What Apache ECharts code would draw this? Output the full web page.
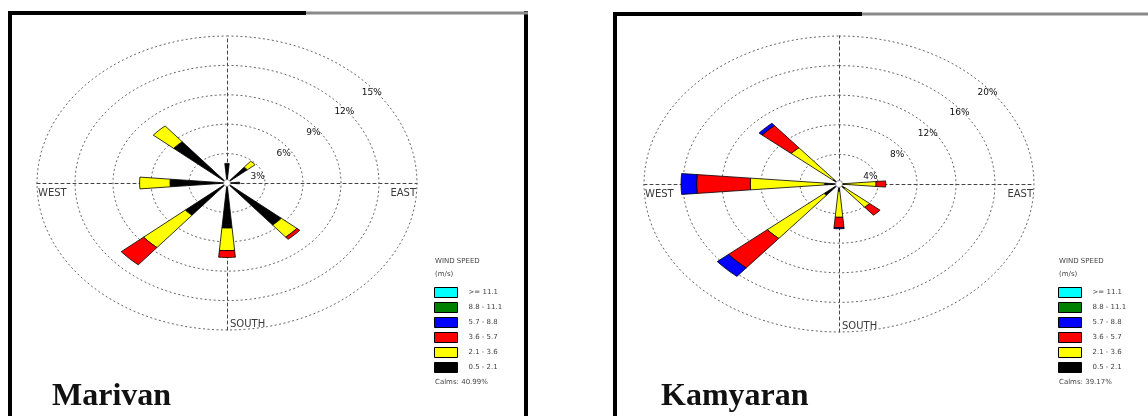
<!DOCTYPE html>
<html>
<head>
<meta charset="utf-8">
<script src="https://cdn.jsdelivr.net/npm/echarts@6/dist/echarts.min.js"></script>
<style>
  html, body { margin: 0; padding: 0; background: #ffffff; }
  #chart { width: 1148px; height: 416px; }
</style>
</head>
<body>
<div id="chart"></div>
<script>
// Wind direction sectors, clockwise from north (degrees)
const directions = ['N', 'NE', 'E', 'SE', 'S', 'SW', 'W', 'NW'];
const directionAngles = [0, 45, 90, 135, 180, 225, 270, 315];

// Wind speed classes (m/s), innermost first
const speedClasses = ['0.5 - 2.1', '2.1 - 3.6', '3.6 - 5.7', '5.7 - 8.8', '8.8 - 11.1', '>= 11.1'];

// Marivan: frequency (%) per direction for each speed class
const marivan_0_5_2_1   = [2.0, 2.1, 1.0, 5.6, 4.6, 4.3, 4.5, 5.5];
const marivan_2_1_3_6   = [0.0, 0.8, 0.0, 1.6, 2.3, 4.3, 2.4, 2.1];
const marivan_3_6_5_7   = [0.0, 0.0, 0.0, 0.3, 0.7, 2.3, 0.0, 0.0];
const marivan_5_7_8_8   = [0.0, 0.0, 0.0, 0.0, 0.0, 0.0, 0.0, 0.0];
const marivan_8_8_11_1  = [0.0, 0.0, 0.0, 0.0, 0.0, 0.0, 0.0, 0.0];
const marivan_11_1_up   = [0.0, 0.0, 0.0, 0.0, 0.0, 0.0, 0.0, 0.0];
const marivanRings = [3, 6, 9, 12, 15];
const marivanCalms = 'Calms: 40.99%';

// Kamyaran: frequency (%) per direction for each speed class
const kamyaran_0_5_2_1  = [0.3, 0.3, 0.6, 0.8, 1.0, 2.0, 1.5, 0.8];
const kamyaran_2_1_3_6  = [0.0, 0.0, 3.2, 3.3, 3.5, 7.6, 7.6, 5.6];
const kamyaran_3_6_5_7  = [0.0, 0.0, 1.0, 1.4, 1.4, 5.2, 5.5, 3.9];
const kamyaran_5_7_8_8  = [0.0, 0.0, 0.0, 0.0, 0.15, 1.5, 1.6, 0.4];
const kamyaran_8_8_11_1 = [0.0, 0.0, 0.0, 0.0, 0.0, 0.0, 0.0, 0.0];
const kamyaran_11_1_up  = [0.0, 0.0, 0.0, 0.0, 0.0, 0.0, 0.0, 0.0];
const kamyaranRings = [4, 8, 12, 16, 20];
const kamyaranCalms = 'Calms: 39.17%';

const compassLabels = ['WEST', 'EAST', 'SOUTH'];

// ---- styling ----
const speedColors = ['#000000', '#ffff00', '#ff0000', '#0000ff', '#008000', '#00ffff'];
const PETAL_HALF_DEG = 5;
// where each ring's % label sits: bearing from north and fraction of the ring radius
const ringLabelBearing = [74, 56, 53, 52, 51];
const ringLabelFrac = [0.84, 0.9, 0.95, 0.98, 0.98];

const stations = [
  {
    name: 'Marivan',
    bins: [marivan_0_5_2_1, marivan_2_1_3_6, marivan_3_6_5_7, marivan_5_7_8_8, marivan_8_8_11_1, marivan_11_1_up],
    rings: marivanRings, calms: marivanCalms,
    grid: { left: 37, top: 36, width: 380, height: 294 },
    legendX: 434, titleX: 52
  },
  {
    name: 'Kamyaran',
    bins: [kamyaran_0_5_2_1, kamyaran_2_1_3_6, kamyaran_3_6_5_7, kamyaran_5_7_8_8, kamyaran_8_8_11_1, kamyaran_11_1_up],
    rings: kamyaranRings, calms: kamyaranCalms,
    grid: { left: 644, top: 36, width: 390, height: 296 },
    legendX: 1058, titleX: 661
  }
];

const rad = d => d * Math.PI / 180;
const toXY = (r, deg) => [r * Math.sin(rad(deg)), r * Math.cos(rad(deg))];

const grids = [], xAxes = [], yAxes = [], series = [], legends = [], graphics = [];

stations.forEach((st, si) => {
  const R = st.rings[st.rings.length - 1];
  grids.push(Object.assign({ containLabel: false }, st.grid));
  const axisCommon = {
    gridIndex: si, type: 'value', min: -R, max: R,
    axisLine: { show: true, onZero: true, lineStyle: { color: '#444', width: 1, type: [3, 3] } },
    axisTick: { show: false }, axisLabel: { show: false }, splitLine: { show: false }
  };
  xAxes.push(Object.assign({}, axisCommon));
  yAxes.push(Object.assign({}, axisCommon));

  // Elliptical frequency rings with their percentage labels
  series.push({
    type: 'custom', name: st.name + ' rings', xAxisIndex: si, yAxisIndex: si,
    silent: true, z: 1,
    data: st.rings.map((v, i) => [v, i]),
    renderItem(params, api) {
      const r = api.value(0), i = api.value(1);
      const pts = [];
      for (let a = 0; a <= 360; a += 3) pts.push(api.coord(toXY(r, a)));
      const lp = api.coord(toXY(r * ringLabelFrac[i], ringLabelBearing[i]));
      return {
        type: 'group',
        children: [
          { type: 'polyline', shape: { points: pts },
            style: { fill: null, stroke: '#555', lineWidth: 0.9, lineDash: [2, 2.5] } },
          { type: 'text', x: lp[0], y: lp[1],
            style: { text: r + '%', fill: '#111', font: '9px "DejaVu Sans"', align: 'center', verticalAlign: 'middle' } }
        ]
      };
    }
  });

  // Compass labels on the outer ring
  series.push({
    type: 'custom', name: st.name + ' compass', xAxisIndex: si, yAxisIndex: si,
    silent: true, z: 1,
    data: [[-R, 0, 0], [R, 0, 1], [0, -R, 2]],
    renderItem(params, api) {
      const p = api.coord([api.value(0), api.value(1)]);
      const idx = api.value(2);
      let x = p[0], y = p[1], align = 'left', va = 'top';
      if (idx === 0) { x += 1; y += 5; }
      else if (idx === 1) { x -= 1; y += 5; align = 'right'; }
      else { x += 3; y -= 1; va = 'bottom'; }
      return { type: 'text', x, y,
        style: { text: compassLabels[idx], fill: '#3a3a3a', font: '10px "DejaVu Sans"', align, verticalAlign: va } };
    }
  });

  // Stacked petals, one custom series per speed class
  const lower = directions.map(() => 0);
  st.bins.forEach((vals, bi) => {
    const data = vals.map((v, di) => [directionAngles[di], lower[di], lower[di] + v]);
    vals.forEach((v, di) => { lower[di] += v; });
    const color = speedColors[bi];
    series.push({
      type: 'custom', name: speedClasses[bi], xAxisIndex: si, yAxisIndex: si,
      z: 3, itemStyle: { color },
      data,
      renderItem(params, api) {
        const ang = api.value(0), r0 = api.value(1), r1 = api.value(2);
        if (!(r1 > r0)) return;
        const pts = [], steps = 6;
        for (let k = 0; k <= steps; k++) {
          const a = ang - PETAL_HALF_DEG + 2 * PETAL_HALF_DEG * k / steps;
          pts.push(api.coord(toXY(r1, a)));
        }
        for (let k = steps; k >= 0; k--) {
          const a = ang - PETAL_HALF_DEG + 2 * PETAL_HALF_DEG * k / steps;
          pts.push(api.coord(toXY(r0, a)));
        }
        return { type: 'polygon', shape: { points: pts },
          style: { fill: color, stroke: '#000', lineWidth: 0.8 } };
      }
    });
  });

  // Calm circle at the centre
  series.push({
    type: 'custom', name: st.name + ' calm', xAxisIndex: si, yAxisIndex: si,
    silent: true, z: 4, data: [[0, 0]],
    renderItem(params, api) {
      const c = api.coord([0, 0]);
      return { type: 'circle', shape: { cx: c[0], cy: c[1], r: 3.5 },
        style: { fill: '#ffffff', stroke: '#777', lineWidth: 0.8 } };
    }
  });

  legends.push({
    left: st.legendX, top: 287, orient: 'vertical', padding: 0,
    itemWidth: 23, itemHeight: 10, itemGap: 4, icon: 'rect', selectedMode: false,
    data: speedClasses.map((n, i) => ({ name: n, itemStyle: { color: speedColors[i], borderColor: '#000', borderWidth: 1 } })).reverse(),
    itemStyle: { borderColor: '#000', borderWidth: 1 },
    textStyle: { fontSize: 7, lineHeight: 10, color: '#444', fontFamily: 'DejaVu Sans', padding: [0, 0, 0, 6] }
  });

  const lx = st.legendX;
  graphics.push(
    { type: 'text', x: lx + 1, y: 258, style: { text: 'WIND SPEED', fill: '#444', font: '7px "DejaVu Sans"' } },
    { type: 'text', x: lx + 1, y: 271, style: { text: '(m/s)', fill: '#444', font: '7px "DejaVu Sans"' } },
    { type: 'text', x: lx + 1, y: 379, style: { text: st.calms, fill: '#444', font: '7px "DejaVu Sans"' } },
    { type: 'text', x: st.titleX, y: 381,
      style: { text: st.name, fill: '#111', font: 'bold 32px "Liberation Serif"' } }
  );
});

// Panel frames
graphics.push(
  { type: 'line', shape: { x1: 10, y1: 11, x2: 10, y2: 420 }, style: { stroke: '#000', lineWidth: 4 } },
  { type: 'line', shape: { x1: 526, y1: 11, x2: 526, y2: 420 }, style: { stroke: '#000', lineWidth: 4 } },
  { type: 'line', shape: { x1: 8, y1: 13, x2: 306, y2: 13 }, style: { stroke: '#000', lineWidth: 4 } },
  { type: 'line', shape: { x1: 306, y1: 13, x2: 528, y2: 13 }, style: { stroke: '#8a8a8a', lineWidth: 3 } },
  { type: 'line', shape: { x1: 615, y1: 12, x2: 615, y2: 420 }, style: { stroke: '#000', lineWidth: 4 } },
  { type: 'line', shape: { x1: 613, y1: 14, x2: 862, y2: 14 }, style: { stroke: '#000', lineWidth: 4 } },
  { type: 'line', shape: { x1: 862, y1: 14, x2: 1148, y2: 14 }, style: { stroke: '#8a8a8a', lineWidth: 3 } }
);

const chart = echarts.init(document.getElementById('chart'), null, { renderer: 'canvas' });
chart.setOption({
  animation: false,
  backgroundColor: '#ffffff',
  grid: grids,
  xAxis: xAxes,
  yAxis: yAxes,
  legend: legends,
  series: series,
  graphic: graphics
});
</script>
</body>
</html>
